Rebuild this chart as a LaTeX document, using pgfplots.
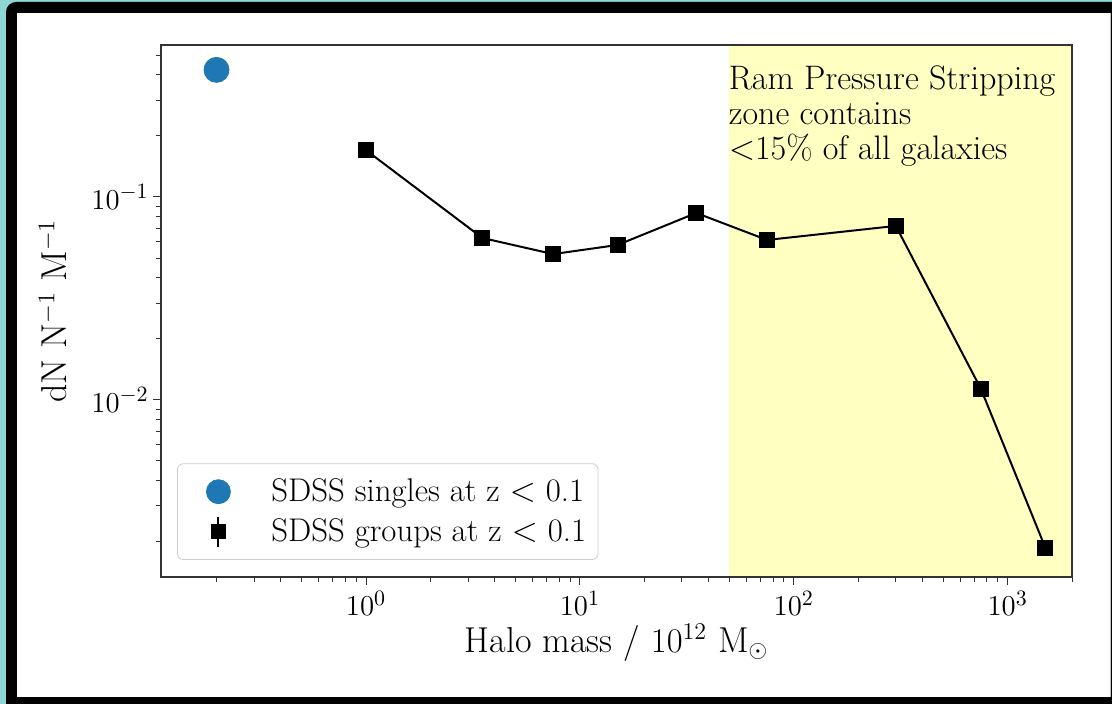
\documentclass[border=0pt]{standalone}
\usepackage{pgfplots}
\pgfplotsset{compat=1.18}
\definecolor{mplblue}{HTML}{1F77B4}
\definecolor{rpsyellow}{rgb}{1,1,0.76}
\definecolor{framebg}{rgb}{0.56,0.84,0.83}
\pgfplotstableread{
x y
0.2 0.423
}\singles
\pgfplotstableread{
x y
1 0.170
3.5 0.0628
7.5 0.0523
15 0.058
35 0.0834
75 0.0614
300 0.0720
750 0.01133
1500 0.00187
}\groups
\begin{document}
\begin{tikzpicture}
\useasboundingbox (0,0) rectangle (556pt,352pt);
\begin{scope}
\clip (0,0) rectangle (556pt,352pt);
\fill[framebg] (0,0) rectangle (556pt,352pt);
\fill[black, rounded corners=5pt] (3pt,-6pt) rectangle (562pt,351pt);
\fill[white] (8.5pt,3.5pt) rectangle (555pt,345.5pt);
\draw[black!25, line width=0.6pt] (555.3pt,3.5pt) -- (555.3pt,345.5pt);
\end{scope}
\begin{axis}[
  at={(80.5pt,63.5pt)}, anchor=south west,
  width=455.5pt, height=266pt, scale only axis,
  xmode=log, ymode=log,
  xmin=0.11, xmax=2000, ymin=0.00134, ymax=0.561,
  axis on top,
  axis line style={black!80, line width=0.6pt},
  tick align=outside, tick pos=left,
  major tick length=4pt, minor tick length=2.4pt,
  every tick/.style={black!80, line width=0.5pt},
  xtick={1,10,100,1000}, ytick={0.01,0.1},
  minor xtick={0.2,0.3,0.4,0.5,0.6,0.7,0.8,0.9,2,3,4,5,6,7,8,9,20,30,40,50,60,70,80,90,200,300,400,500,600,700,800,900,2000},
  minor ytick={0.002,0.003,0.004,0.005,0.006,0.007,0.008,0.009,0.02,0.03,0.04,0.05,0.06,0.07,0.08,0.09,0.2,0.3,0.4,0.5},
  ticklabel style={font=\fontsize{15.5}{18}\selectfont},
  yticklabel style={inner xsep=2pt},
  xticklabel style={inner ysep=3pt},
  xlabel={Halo mass / $10^{12}$ M$_\odot$},
  ylabel={dN N$^{-1}$ M$^{-1}$},
  label style={font=\fontsize{18}{21}\selectfont},
  xlabel style={at={(axis description cs:0.5,-0.141)}, anchor=base},
  ylabel style={at={(axis description cs:-0.1032,0.5)}, anchor=base},
  legend style={at={(axis description cs:0.0176,0.032)}, anchor=south west,
    draw=black!20, rounded corners=3pt, fill=white, fill opacity=0.8, text opacity=1, draw opacity=1,
    font=\fontsize{16.4}{19}\selectfont, row sep=3pt, inner xsep=4pt, inner ysep=5.5pt},
  legend cell align=left,
]
\fill[rpsyellow] (axis cs:50,0.00134) rectangle (axis cs:2000,0.561);
\node[anchor=north west, inner sep=0pt, align=left, font=\fontsize{17}{17.5}\selectfont]
  at (axis cs:50,0.561) [yshift=-10pt, xshift=-0.5pt] {Ram Pressure Stripping\\zone contains\\$<$15\% of all galaxies};
\addplot[only marks, mark=*, mark size=6.25pt, mplblue, mark options={draw=mplblue, fill=mplblue},
  legend image code/.code={\path[draw=none, fill=none] (0pt,-6pt) rectangle (41pt,6pt); \fill[mplblue, sharp corners, fill opacity=1] (16.5pt,0pt) circle (6pt);}]
  table {\singles};
\addlegendentry{SDSS singles at z $<$ 0.1}
\addplot[black, line width=1pt, mark=square*, mark size=3.5pt, mark options={solid, fill=black},
  legend image code/.code={\path[draw=none, fill=none] (0pt,-6pt) rectangle (41pt,6pt); \draw[black, sharp corners, draw opacity=1, line width=1pt] (16.5pt,-7.5pt) -- (16.5pt,7.5pt); \fill[black, sharp corners, fill opacity=1] (13.2pt,-3.2pt) rectangle (19.8pt,3.2pt);}]
  table {\groups};
\addlegendentry{SDSS groups at z $<$ 0.1}
\end{axis}
\end{tikzpicture}
\end{document}
